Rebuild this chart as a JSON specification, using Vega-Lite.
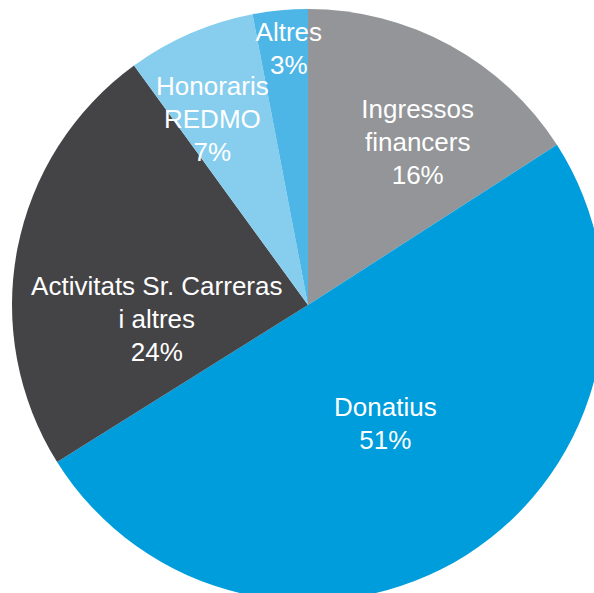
{
  "$schema": "https://vega.github.io/schema/vega-lite/v6.json",
  "width": 616,
  "height": 610,
  "autosize": {"type": "none"},
  "padding": 0,
  "background": "white",
  "view": {"stroke": null},
  "data": {
    "values": [
      {"ordre": 1, "categoria": "Ingressos financers", "valor": 15.9, "etiqueta": ["Ingressos", "financers", "16%"]},
      {"ordre": 2, "categoria": "Donatius", "valor": 50.2, "etiqueta": ["Donatius", "51%"]},
      {"ordre": 3, "categoria": "Activitats Sr. Carreras i altres", "valor": 23.9, "etiqueta": ["Activitats Sr. Carreras", "i altres", "24%"]},
      {"ordre": 4, "categoria": "Honoraris REDMO", "valor": 7.0, "etiqueta": ["Honoraris", "REDMO", "7%"]},
      {"ordre": 5, "categoria": "Altres", "valor": 3.0, "etiqueta": ["Altres", "3%"]}
    ]
  },
  "encoding": {
    "theta": {"field": "valor", "type": "quantitative", "stack": true},
    "order": {"field": "ordre", "type": "quantitative"}
  },
  "layer": [
    {
      "mark": {"type": "arc", "outerRadius": 296},
      "encoding": {
        "color": {
          "field": "categoria",
          "type": "nominal",
          "legend": null,
          "scale": {
            "domain": ["Ingressos financers", "Donatius", "Activitats Sr. Carreras i altres", "Honoraris REDMO", "Altres"],
            "range": ["#939598", "#009ddc", "#444346", "#87ceee", "#4db6e6"]
          }
        }
      }
    },
    {
      "mark": {
        "type": "text",
        "font": "Liberation Sans",
        "fontSize": 26,
        "lineHeight": 33,
        "color": "white",
        "align": "center",
        "baseline": "middle",
        "radius": {"expr": "datum.categoria === 'Ingressos financers' ? 204 : datum.categoria === 'Donatius' ? 135 : datum.categoria === 'Honoraris REDMO' ? 208 : datum.categoria === 'Altres' ? 257 : 152"},
        "dx": {"expr": "datum.categoria === 'Ingressos financers' ? 12 : datum.categoria === 'Donatius' ? 5 : datum.categoria === 'Honoraris REDMO' ? -13 : datum.categoria === 'Altres' ? 5 : -2"},
        "dy": {"expr": "datum.categoria === 'Ingressos financers' ? -16 : datum.categoria === 'Donatius' ? -11 : datum.categoria === 'Honoraris REDMO' ? -27 : datum.categoria === 'Altres' ? -16 : 11"}
      },
      "encoding": {
        "text": {"field": "etiqueta"}
      }
    }
  ]
}
